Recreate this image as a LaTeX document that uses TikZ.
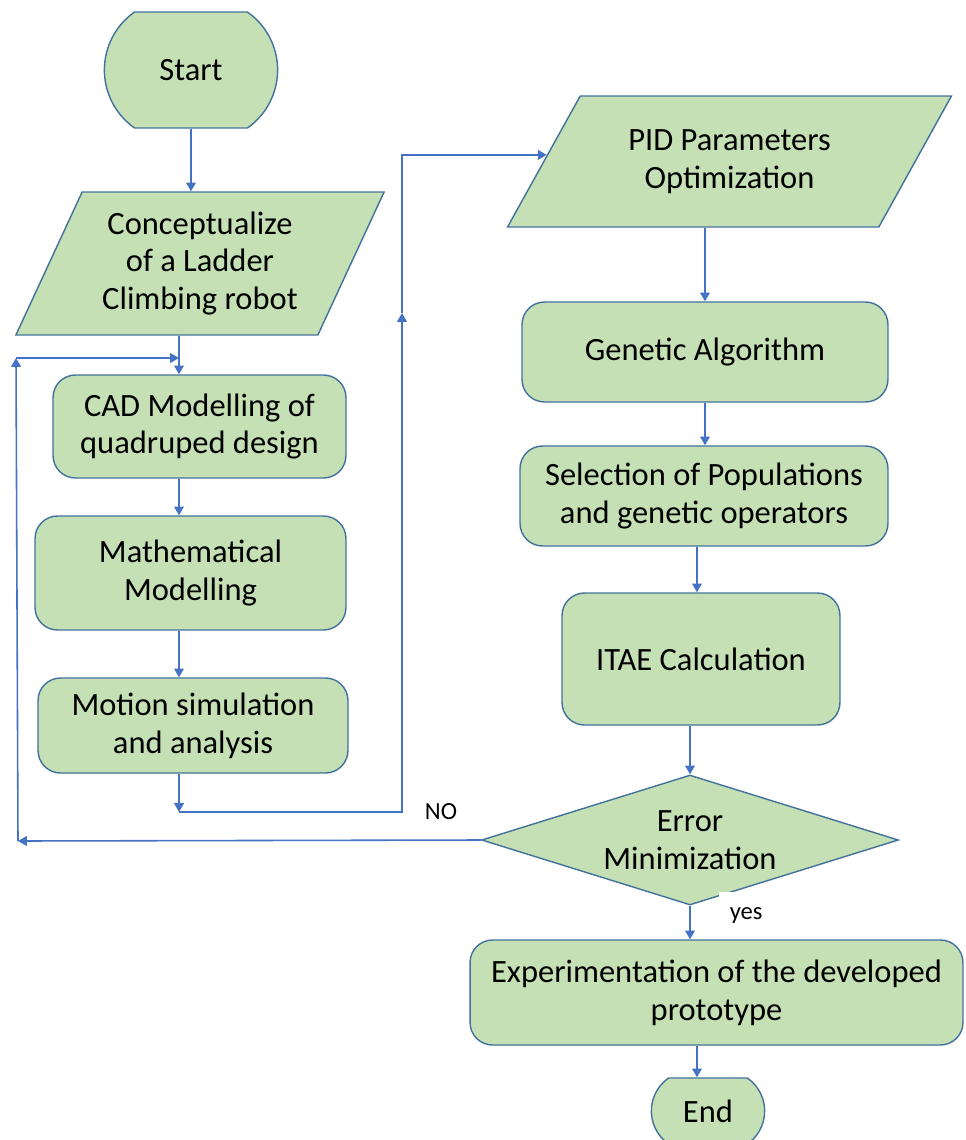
\documentclass[tikz,border=0pt]{standalone}
\usepackage{fontspec}
\setmainfont{Carlito}
\usepackage{tikz}
\usetikzlibrary{shapes.geometric,shapes.misc,arrows.meta,calc}

\definecolor{caixa}{HTML}{C5E0B4}
\definecolor{borda}{HTML}{41719C}
\definecolor{seta}{HTML}{4472C4}

\tikzset{
	base/.style={draw=borda, fill=caixa, line width=0.8pt, align=center, font=\fontsize{18.5}{21.6}\selectfont},
	terminal/.style={base, rounded rectangle, rounded rectangle arc length=110},
	processo/.style={base, rectangle, rounded corners=0.45cm},
	entrada/.style={base, trapezium, trapezium stretches=true},
	decisao/.style={base, diamond, aspect=3.2, inner sep=0pt},
	fluxo/.style={draw=seta, line width=0.9pt, -{Triangle[length=5pt,width=5.5pt]}},
	rotulo/.style={font=\fontsize{14}{16}\selectfont},
}

\begin{document}
\begin{tikzpicture}[x=0.02cm, y=-0.02cm]
			\useasboundingbox (0,0) rectangle (965,1140);
			% Coluna da esquerda
			\node[terminal, minimum width=3.7cm, minimum height=2.32cm] (start) at (191,70) {Start};
			\node[entrada, trapezium left angle=63.3, trapezium right angle=116.7, minimum width=7.38cm, minimum height=2.86cm] (concept) at (200,263.5) {Conceptualize\\of a Ladder\\Climbing robot};
			\node[processo, minimum width=5.86cm, minimum height=2.06cm] (cad) at (199.5,426.5) {CAD Modelling of\\quadruped design};
			\node[processo, minimum width=6.22cm, minimum height=2.28cm] (math) at (190.5,573) {Mathematical\\Modelling};
			\node[processo, minimum width=6.2cm, minimum height=1.9cm] (motion) at (193,725.5) {Motion simulation\\and analysis};
			% Coluna da direita
			\node[entrada, trapezium left angle=55.5, trapezium right angle=124.5, minimum width=8.9cm, minimum height=2.62cm] (pid) at (729.5,161.5) {PID Parameters\\Optimization};
			\node[processo, minimum width=7.32cm, minimum height=2cm] (ga) at (705,352) {Genetic Algorithm};
			\node[processo, minimum width=7.36cm, minimum height=2cm] (sel) at (704,496) {Selection of Populations\\and genetic operators};
			\node[processo, minimum width=5.56cm, minimum height=2.64cm] (itae) at (701,659) {ITAE Calculation};
			\node[decisao, minimum width=8.34cm, minimum height=2.6cm] (dec) at (690,840) {Error\\Minimization};
			\node[processo, minimum width=9.86cm, minimum height=2.1cm] (exper) at (716.5,992.5) {Experimentation of the developed\\prototype};
			\node[terminal, minimum width=2.5cm, minimum height=1.32cm] (fim) at (708,1111) {End};
			% Rotulos
			\node[rotulo] (no) at (441,812) {NO};
			\node[rotulo, fill=white, anchor=north west, inner xsep=6pt, inner ysep=8.5pt] (yes) at (719,892) {yes};
			% Pontos auxiliares
			\coordinate (lane) at (179,0);
			\coordinate (rlane) at (697,0);
			\coordinate (m1) at (179,812);
			\coordinate (m2) at (402,812);
			\coordinate (m3) at (402,313);
			\coordinate (f1) at (18,841);
			\coordinate (f2) at (16,358);
			% Setas
			\draw[fluxo] (start.south) -- (start.south |- concept.north);
			\draw[fluxo] (concept.south -| lane) -- (cad.north -| lane);
			\draw[fluxo] (cad.south -| lane) -- (math.north -| lane);
			\draw[fluxo] (math.south -| lane) -- (motion.north -| lane);
			\draw[fluxo] (motion.south -| lane) -- (m1);
			\draw[fluxo] (m1) -- (m2) -- (m3);
			\draw[fluxo] (m3) |- ($(pid.top left corner)!0.45!(pid.bottom left corner)$);
			\draw[fluxo] (pid.south -| ga.north) -- (ga.north);
			\draw[fluxo] (ga.south) -- (ga.south |- sel.north);
			\draw[fluxo] (sel.south -| rlane) -- (itae.north -| rlane);
			\draw[fluxo] (itae.south -| dec.north) -- (dec.north);
			\draw[fluxo] (dec.south) -- (dec.south |- exper.north);
			\draw[fluxo] (exper.south -| rlane) -- (fim.north -| rlane);
			\draw[fluxo] (dec.west) -- (f1);
			\draw[fluxo] (f1) -- (f2);
			\draw[fluxo] (f2) -- (f2 -| lane);
\end{tikzpicture}
\end{document}
